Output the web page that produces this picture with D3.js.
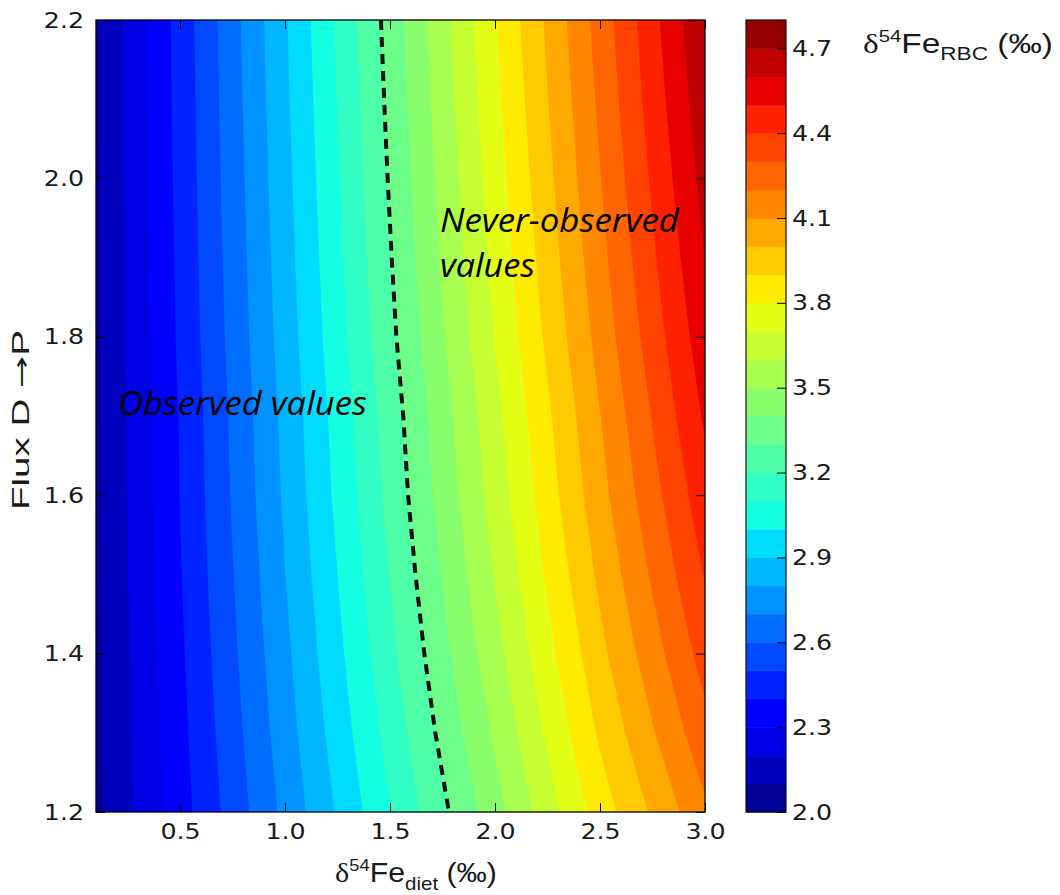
<!DOCTYPE html>
<html><head><meta charset="utf-8">
<script src="https://cdn.jsdelivr.net/npm/d3@7"></script>
<style>body{margin:0;background:#fff}</style>
</head><body><svg id="c" width="1060" height="895" xmlns="http://www.w3.org/2000/svg"></svg>
<script>
// ---- data ----
const xSamples = [0.1, 0.5, 1.0, 1.5, 2.0, 2.5, 3.0];                       // δ54Fe diet (‰)
const ySamples = [2.2, 2.1, 2.0, 1.9, 1.8, 1.7, 1.6, 1.5, 1.4, 1.3, 1.2];   // Flux D→P (top to bottom)
const zRow22 = [2.086, 2.438, 2.888, 3.339, 3.791, 4.241, 4.693];
const zRow21 = [2.085, 2.433, 2.879, 3.325, 3.772, 4.219, 4.667];
const zRow20 = [2.084, 2.428, 2.868, 3.310, 3.751, 4.194, 4.635];
const zRow19 = [2.083, 2.422, 2.857, 3.293, 3.728, 4.167, 4.600];
const zRow18 = [2.082, 2.416, 2.845, 3.274, 3.703, 4.136, 4.560];
const zRow17 = [2.082, 2.405, 2.827, 3.247, 3.667, 4.096, 4.514];
const zRow16 = [2.080, 2.401, 2.815, 3.229, 3.642, 4.064, 4.462];
const zRow15 = [2.078, 2.392, 2.797, 3.202, 3.606, 4.021, 4.406];
const zRow14 = [2.076, 2.381, 2.776, 3.172, 3.564, 3.972, 4.341];
const zRow13 = [2.074, 2.369, 2.753, 3.136, 3.516, 3.914, 4.267];
const zRow12 = [2.072, 2.355, 2.725, 3.095, 3.460, 3.848, 4.180];
const levels = [2.0,2.1,2.2,2.3,2.4,2.5,2.6,2.7,2.8,2.9,3.0,3.1,3.2,3.3,3.4,3.5,3.6,3.7,3.8,3.9,4.0,4.1,4.2,4.3,4.4,4.5,4.6,4.7,4.8];
const boundaryLevel = 3.3;
const xTicks = [0.5, 1.0, 1.5, 2.0, 2.5, 3.0];
const yTicks = [1.2, 1.4, 1.6, 1.8, 2.0, 2.2];
const cbarTicks = [2.0, 2.3, 2.6, 2.9, 3.2, 3.5, 3.8, 4.1, 4.4, 4.7];

// ---- jet colormap ----
const jetR=[[0,0],[0.35,0],[0.66,1],[0.89,1],[1,0.5]];
const jetG=[[0,0],[0.125,0],[0.375,1],[0.64,1],[0.91,0],[1,0]];
const jetB=[[0,0.5],[0.11,1],[0.34,1],[0.65,0],[1,0]];
function seg(p,t){for(let i=0;i<p.length-1;i++){if(t<=p[i+1][0]){const f=(t-p[i][0])/(p[i+1][0]-p[i][0]);return p[i][1]+f*(p[i+1][1]-p[i][1]);}}return p[p.length-1][1];}
function jet(t){return d3.rgb(255*seg(jetR,t),255*seg(jetG,t),255*seg(jetB,t)).formatHex();}
const vmin=levels[0], vmax=levels[levels.length-1];
function bandColor(i){return jet(((levels[i]+levels[i+1])/2-vmin)/(vmax-vmin));}

const svg = d3.select("#c");
const X0=96, X1=705, Y0=20, Y1=812;
const x = d3.scaleLinear().domain([0.1,3.0]).range([X0,X1]);
const y = d3.scaleLinear().domain([1.2,2.2]).range([Y1,Y0]);
const cy = d3.scaleLinear().domain([vmin,vmax]).range([Y1,Y0]);

svg.append("defs").append("clipPath").attr("id","clip").append("rect")
  .attr("x",X0).attr("y",Y0).attr("width",X1-X0).attr("height",Y1-Y0);

// ---- filled contours ----
const zRows=[zRow22,zRow21,zRow20,zRow19,zRow18,zRow17,zRow16,zRow15,zRow14,zRow13,zRow12];
const values=zRows.flat();
const nx=xSamples.length, ny=ySamples.length;
function gridMap(arr,g){const n=arr.length;const c=Math.max(0.5,Math.min(n-0.5,g))-0.5;const i=Math.min(Math.floor(c),n-2);const f=c-i;return arr[i]+f*(arr[i+1]-arr[i]);}
const proj=d3.geoTransform({point(px,py){this.stream.point(x(gridMap(xSamples,px)),y(gridMap(ySamples,py)));}});
const path=d3.geoPath(proj);
const contours=d3.contours().size([nx,ny]).thresholds(levels.slice(0,-1))(values);
const plot=svg.append("g").attr("clip-path","url(#clip)");
plot.selectAll("path.band").data(contours).join("path").attr("class","band")
  .attr("d",path).attr("fill",(d,i)=>bandColor(i)).attr("stroke",(d,i)=>bandColor(i)).attr("stroke-width",0.6);

// ---- dashed boundary contour ----
const dashPts=ySamples.map((yv,r)=>{const row=zRows[r];for(let i=0;i<row.length-1;i++){if(row[i]<=boundaryLevel&&row[i+1]>boundaryLevel){return [xSamples[i]+(boundaryLevel-row[i])/(row[i+1]-row[i])*(xSamples[i+1]-xSamples[i]),yv];}}return null;}).filter(Boolean);
plot.append("path").attr("d",d3.line().x(d=>x(d[0])).y(d=>y(d[1]))(dashPts))
  .attr("fill","none").attr("stroke","#111").attr("stroke-width",4).attr("stroke-dasharray","10,7");

// ---- axes ----
const SX=1.15;
const tickFont="DejaVu Sans";
function styleAxis(g,labels){
  g.select(".domain").remove();
  g.selectAll(".tick line").attr("stroke","#000").attr("stroke-width",1);
  g.selectAll(".tick text").attr("font-family",tickFont).attr("font-size",22).attr("fill","#1a1a1a");
  if(!labels) g.selectAll(".tick text").remove();
}
const gb=svg.append("g").attr("transform",`translate(0,${Y1})`)
  .call(d3.axisBottom(x).tickValues(xTicks).tickFormat(d3.format(".1f")).tickSizeInner(-9).tickSizeOuter(0).tickPadding(11));
styleAxis(gb,true); gb.selectAll(".tick text").attr("transform",`scale(${SX},1)`);
const gt=svg.append("g").attr("transform",`translate(0,${Y0})`)
  .call(d3.axisTop(x).tickValues(xTicks).tickSizeInner(-9).tickSizeOuter(0));
styleAxis(gt,false);
const gl=svg.append("g").attr("transform",`translate(${X0},0)`)
  .call(d3.axisLeft(y).tickValues(yTicks).tickFormat(d3.format(".1f")).tickSizeInner(-9).tickSizeOuter(0).tickPadding(12));
styleAxis(gl,true); gl.selectAll(".tick text").attr("x",-12/SX).attr("transform",`scale(${SX},1)`);
const gr=svg.append("g").attr("transform",`translate(${X1},0)`)
  .call(d3.axisRight(y).tickValues(yTicks).tickSizeInner(-9).tickSizeOuter(0));
styleAxis(gr,false);
svg.append("rect").attr("x",X0).attr("y",Y0).attr("width",X1-X0).attr("height",Y1-Y0)
  .attr("fill","none").attr("stroke","#000").attr("stroke-width",1.3);

// ---- colorbar ----
const CB0=746, CB1=786;
const cb=svg.append("g");
cb.selectAll("rect.cband").data(levels.slice(0,-1)).join("rect").attr("class","cband")
  .attr("x",CB0).attr("width",CB1-CB0)
  .attr("y",(d,i)=>cy(levels[i+1])).attr("height",(d,i)=>cy(levels[i])-cy(levels[i+1])+0.5)
  .attr("fill",(d,i)=>bandColor(i));
const gc=svg.append("g").attr("transform",`translate(${CB1},0)`)
  .call(d3.axisRight(cy).tickValues(cbarTicks).tickFormat(d3.format(".1f")).tickSizeInner(-9).tickSizeOuter(0).tickPadding(6));
styleAxis(gc,true); gc.selectAll(".tick text").attr("x",6/SX).attr("transform",`scale(${SX},1)`);
svg.append("rect").attr("x",CB0).attr("y",Y0).attr("width",CB1-CB0).attr("height",Y1-Y0)
  .attr("fill","none").attr("stroke","#111").attr("stroke-width",1.2);

// ---- fitted text helper ----
function fitted(px,py,targetW,build,anchor,rot){
  const g=svg.append("g");
  const t=g.append("text").attr("text-anchor",anchor||"start");
  build(t);
  const w=t.node().getBBox().width;
  const s=targetW/w;
  g.attr("transform",`translate(${px},${py}) rotate(${rot||0}) scale(${s},1)`);
  return g;
}
const labelFont="Liberation Sans";
// x axis label
fitted(335,882,162,t=>{
  t.attr("font-family",labelFont).attr("font-size",28).attr("fill","#1a1a1a");
  t.append("tspan").attr("font-family","Liberation Serif").text("δ");
  t.append("tspan").attr("font-size",17).attr("dy",-11).text("54");
  t.append("tspan").attr("dy",11).text("Fe");
  t.append("tspan").attr("font-size",19).attr("dy",8).text("diet");
  t.append("tspan").attr("dy",-8).text(" (‰)");
});
// y axis label
fitted(29,420,180,t=>{
  t.attr("font-family",labelFont).attr("font-size",23).attr("fill","#1a1a1a");
  t.append("tspan").text("Flux D ");
  t.append("tspan").attr("font-family","DejaVu Sans").text("→");
  t.append("tspan").text("P");
},"middle",-90);
// colorbar title
fitted(863,53,190,t=>{
  t.attr("font-family",labelFont).attr("font-size",28).attr("fill","#1a1a1a");
  t.append("tspan").attr("font-family","Liberation Serif").text("δ");
  t.append("tspan").attr("font-size",17).attr("dy",-11).text("54");
  t.append("tspan").attr("dy",11).text("Fe");
  t.append("tspan").attr("font-size",19).attr("dy",7).text("RBC");
  t.append("tspan").attr("dy",-7).text(" (‰)");
});
// annotations
const annFont="Open Sans";
fitted(118,415,249,t=>{t.attr("font-family",annFont).attr("font-style","italic").attr("font-size",33).attr("fill","#000").text("Observed values");});
fitted(440,232,240,t=>{t.attr("font-family",annFont).attr("font-style","italic").attr("font-size",33).attr("fill","#000").text("Never-observed");});
fitted(440,277,95,t=>{t.attr("font-family",annFont).attr("font-style","italic").attr("font-size",33).attr("fill","#000").text("values");});
</script>
</body></html>
